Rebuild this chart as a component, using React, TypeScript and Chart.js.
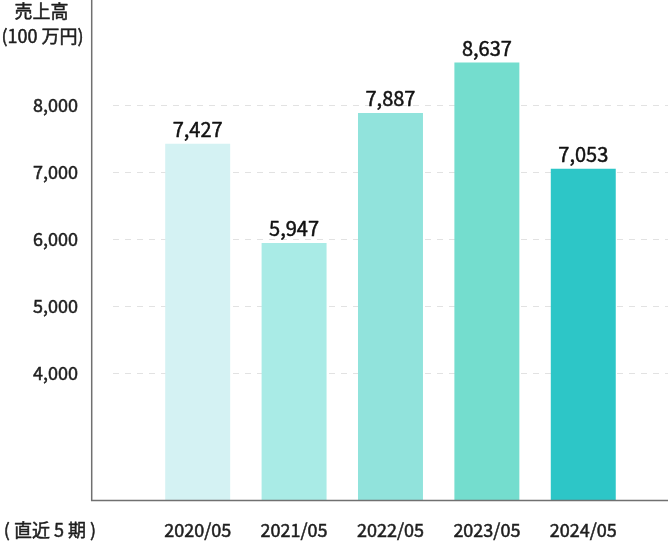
import React, { useEffect, useRef } from 'react';
import { Chart, registerables } from 'chart.js';

Chart.register(...registerables);

const categories = ['2020/05', '2021/05', '2022/05', '2023/05', '2024/05'];
const sales = [7427, 5947, 7887, 8637, 7053];
const yTicks = [4000, 5000, 6000, 7000, 8000];
const barColors = ['#d4f2f3', '#a9ebe6', '#91e3dc', '#74ddce', '#2dc6c7'];
const yTitleLines = ['売上高', '(100 万円)'];
const xTitle = '( 直近 5 期 )';

const FONT = '"Noto Sans CJK JP", "Noto Sans", sans-serif';
const TEXT = '#1e1e1e';

export default function App() {
  const ref = useRef<HTMLCanvasElement>(null);

  useEffect(() => {
    const canvas = ref.current;
    if (!canvas) return;

    const fmt = (v: number) => v.toLocaleString('en-US');

    const drawText = (ctx: any, s: string, x: number, y: number) => {
      ctx.strokeText(s, x, y);
      ctx.fillText(s, x, y);
    };

    const decor = {
      id: 'decor',
      afterDatasetsDraw(chart: any) {
        const { ctx, chartArea } = chart;
        ctx.save();
        // axis lines
        ctx.strokeStyle = '#707070';
        ctx.lineWidth = 1.5;
        ctx.setLineDash([]);
        ctx.beginPath();
        ctx.moveTo(91.7, 0);
        ctx.lineTo(91.7, chartArea.bottom);
        ctx.moveTo(91, chartArea.bottom - 0.5);
        ctx.lineTo(chart.width, chartArea.bottom - 0.5);
        ctx.stroke();

        // data labels
        const meta = chart.getDatasetMeta(0);
        ctx.fillStyle = '#111';
        ctx.strokeStyle = '#111';
        ctx.lineWidth = 0.5;
        ctx.lineJoin = 'round';
        ctx.font = `20px ${FONT}`;
        ctx.textAlign = 'center';
        ctx.textBaseline = 'alphabetic';
        meta.data.forEach((bar: any, i: number) => {
          drawText(ctx, fmt(sales[i]), bar.x, bar.y - 7);
        });

        // titles
        ctx.fillStyle = TEXT;
        ctx.strokeStyle = TEXT;
        ctx.font = `18px ${FONT}`;
        ctx.textBaseline = 'middle';
        drawText(ctx, yTitleLines[0], 41.5, 11);
        drawText(ctx, yTitleLines[1], 42.5, 36);
        drawText(ctx, xTitle, 50, 530);
        ctx.restore();
      },
    };

    const chart = new Chart(canvas, {
      type: 'bar',
      data: {
        datasets: [
          {
            data: categories.map((c, i) => ({ x: i + 1, y: sales[i] })),
            backgroundColor: barColors,
            borderWidth: 0,
            barPercentage: 0.674,
            categoryPercentage: 1,
          },
        ],
      },
      options: {
        responsive: false,
        animation: false,
        layout: { padding: 0 },
        plugins: {
          legend: { display: false },
          tooltip: { enabled: false },
          title: { display: false },
        },
        scales: {
          x: {
            type: 'linear',
            offset: false,
            min: 0.1214,
            max: 5.879,
            grid: { display: false, offset: false },
            border: { display: false },
            afterBuildTicks: (axis: any) => {
              axis.ticks = categories.map((_, i) => ({ value: i + 1 }));
            },
            afterFit: (s: any) => {
              s.height = 41;
              s.paddingLeft = 0;
              s.paddingRight = 0;
            },
            ticks: {
              autoSkip: false,
              maxRotation: 0,
              padding: 10,
              color: TEXT,
              textStrokeColor: TEXT,
              textStrokeWidth: 0.5,
              font: { family: FONT, size: 18 },
              callback: (v: any) => categories[Math.round(v) - 1] ?? '',
            },
          },
          y: {
            type: 'linear',
            min: 2100,
            max: 9570,
            afterBuildTicks: (axis: any) => {
              axis.ticks = yTicks.map((v) => ({ value: v }));
            },
            afterFit: (s: any) => {
              s.width = 113;
              s.paddingTop = 0;
              s.paddingBottom = 0;
            },
            grid: {
              color: '#e2e2e2',
              lineWidth: 1,
              drawTicks: true,
              tickLength: 35,
              tickColor: 'rgba(0,0,0,0)',
            },
            border: { display: false, dash: [6, 6] },
            ticks: {
              padding: 0,
              color: TEXT,
              textStrokeColor: TEXT,
              textStrokeWidth: 0.5,
              font: { family: FONT, size: 18 },
              callback: (v: any) => fmt(Number(v)),
            },
          },
        },
      },
      plugins: [decor],
    });

    return () => chart.destroy();
  }, []);

  return (
    <div style={{ position: 'fixed', left: 0, top: 0, width: 668, height: 542, background: '#fff' }}>
      <canvas ref={ref} width={668} height={542} style={{ display: 'block', width: 668, height: 542 }} />
    </div>
  );
}
